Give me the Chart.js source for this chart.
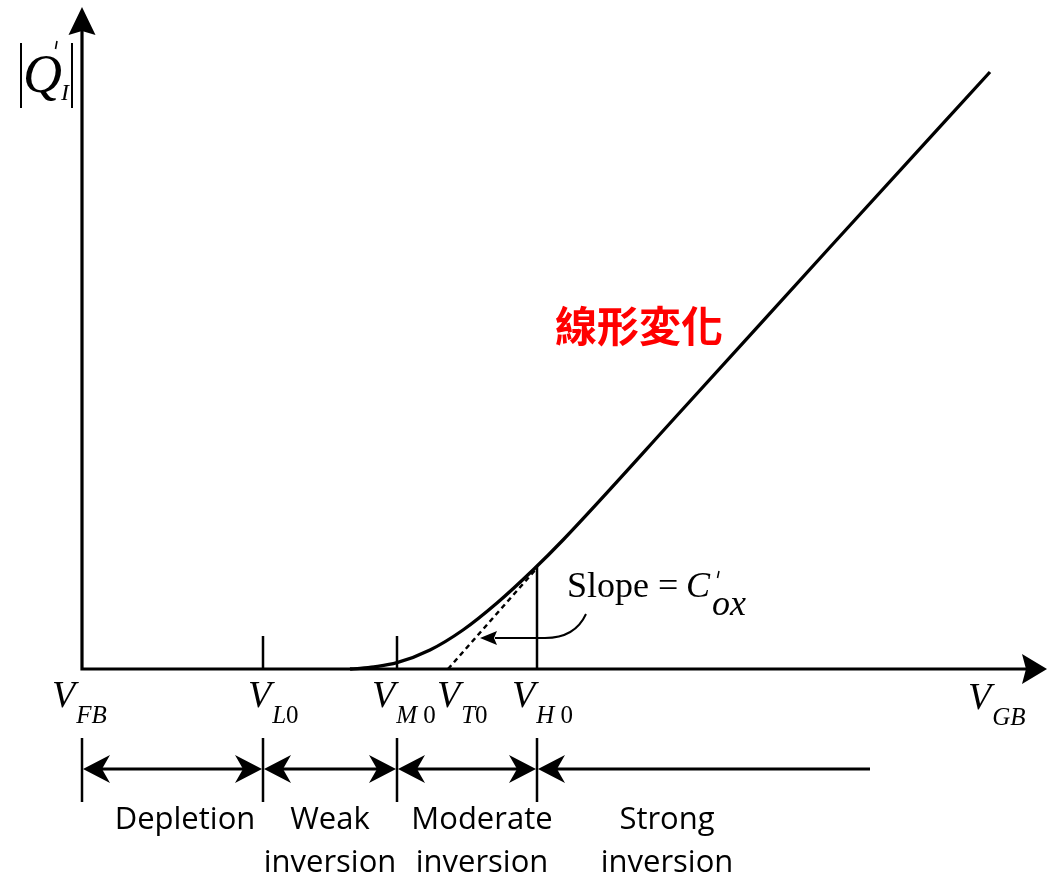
<!DOCTYPE html>
<html>
<head>
<meta charset="utf-8">
<script src="https://cdn.jsdelivr.net/npm/chart.js@4"></script>
<style>
  html, body { margin: 0; padding: 0; background: #fff; }
  #wrap { width: 1048px; height: 877px; position: relative; }
</style>
</head>
<body>
<div id="wrap"><canvas id="c"></canvas></div>
<script>
// Gate-voltage landmarks along V_GB (V_FB at the origin, arbitrary units)
const tickNames = ['FB', 'L0', 'M 0', 'T0', 'H 0'];
const tickValues = [0, 181, 315, 366, 455];

// Inversion-layer charge |Q'_I| versus V_GB
const curveX = [268, 278, 292, 315, 348, 381, 415, 451, 481, 600, 750, 908];
const curveY = [0, 0.7, 2.2, 6.3, 19, 39, 66, 99, 129, 259, 424, 597];

// Strong-inversion asymptote extended down to V_T0 (slope = C'ox)
const tangentX = [366, 455];
const tangentY = [0, 101];

// Heights of the marker at V_H0 and of the small ticks at V_L0 / V_M0
const markerH0 = 103;
const tickMarkHeight = 33;

// Operating regions below the axis
const regionBounds = [0, 181, 315, 455, 788];
const regionLabels = [['Depletion'], ['Weak', 'inversion'], ['Moderate', 'inversion'], ['Strong', 'inversion']];

const serif = '"Liberation Serif", "Times New Roman", serif';
const sans = '"Open Sans", "Noto Sans", sans-serif';
const cjk = '"Noto Sans CJK TC", "Noto Sans CJK SC", sans-serif';

function pts(xs, ys) { return xs.map((x, i) => ({ x: x, y: ys[i] })); }

function arrowHead(ctx, tx, ty, dx, dy, len, hw, notch) {
  const bx = tx - dx * len, by = ty - dy * len;
  const nx = -dy, ny = dx;
  ctx.beginPath();
  ctx.moveTo(tx, ty);
  ctx.lineTo(bx + nx * hw, by + ny * hw);
  ctx.lineTo(bx + dx * notch, by + dy * notch);
  ctx.lineTo(bx - nx * hw, by - ny * hw);
  ctx.closePath();
  ctx.fill();
}

// label anchors (data units) for the region captions
const regionLabelX = [103, 248, 400, 585];
// offset of each V label from its tick, pixels
const tickLabelShift = [-30, -15, -25, -11, -25];

// subscript: letters italic, digits upright, spaces as small gaps
function drawSub(ctx, text, x, base, size) {
  for (const ch of text) {
    if (ch === ' ') { x += size * 0.25; continue; }
    ctx.font = (/[0-9]/.test(ch) ? '' : 'italic ') + size + 'px ' + serif;
    ctx.fillText(ch, x, base);
    x += ctx.measureText(ch).width;
  }
}

const diagramPlugin = {
  id: 'diagram',
  afterDatasetsDraw(chart) {
    const ctx = chart.ctx;
    const xs = chart.scales.x, ys = chart.scales.y;
    const area = chart.chartArea;
    const X = v => xs.getPixelForValue(v);
    const Y = v => ys.getPixelForValue(v);
    const x0 = X(0), y0 = Y(0);
    ctx.save();
    ctx.fillStyle = '#000';
    ctx.strokeStyle = '#000';
    ctx.lineCap = 'butt';

    // axes with arrowheads
    ctx.lineWidth = 3.2;
    ctx.beginPath();
    ctx.moveTo(x0, y0 + 1.6);
    ctx.lineTo(x0, area.top + 24);
    ctx.moveTo(x0 - 1.6, y0);
    ctx.lineTo(area.right - 21, y0);
    ctx.stroke();
    arrowHead(ctx, x0, area.top, 0, -1, 28, 13.5, 4);
    arrowHead(ctx, area.right - 1, y0, 1, 0, 25, 15, 4);

    // V labels under the axis
    ctx.textBaseline = 'alphabetic';
    ctx.textAlign = 'left';
    const drawV = (left, base, sub) => {
      ctx.font = 'italic 38px ' + serif;
      ctx.fillText('V', left, base);
      const w = ctx.measureText('V').width;
      drawSub(ctx, sub, left + w + 1, base + 16, 25);
    };
    tickValues.forEach((v, i) => drawV(X(v) + tickLabelShift[i], y0 + 38, tickNames[i]));
    drawV(X(886), y0 + 40, 'GB');

    // |Q'_I| axis title
    ctx.lineWidth = 2;
    ctx.beginPath();
    ctx.moveTo(x0 - 61, 43); ctx.lineTo(x0 - 61, 108);
    ctx.moveTo(x0 - 10, 43); ctx.lineTo(x0 - 10, 108);
    ctx.stroke();
    ctx.font = 'italic 54px ' + serif;
    ctx.fillText('Q', x0 - 59, 92);
    ctx.lineWidth = 1.6;
    ctx.beginPath();
    ctx.moveTo(x0 - 25, 41); ctx.lineTo(x0 - 26.5, 49);
    ctx.stroke();
    ctx.font = 'italic 24px ' + serif;
    ctx.fillText('I', x0 - 21, 100);

    // region arrows
    const barTop = y0 + 69, barBot = y0 + 133, ay = y0 + 100;
    ctx.lineWidth = 2.5;
    ctx.beginPath();
    for (let i = 0; i < 4; i++) {
      ctx.moveTo(X(regionBounds[i]), barTop);
      ctx.lineTo(X(regionBounds[i]), barBot);
    }
    ctx.stroke();
    ctx.lineWidth = 3;
    for (let i = 0; i < 4; i++) {
      const a = X(regionBounds[i]), b = X(regionBounds[i + 1]);
      ctx.beginPath();
      ctx.moveTo(a + 20, ay);
      ctx.lineTo(i < 3 ? b - 20 : b, ay);
      ctx.stroke();
      arrowHead(ctx, a + 1, ay, -1, 0, 27, 14, 8);
      if (i < 3) arrowHead(ctx, b - 1, ay, 1, 0, 27, 14, 8);
    }
    ctx.textAlign = 'center';
    ctx.font = '31px ' + sans;
    regionLabels.forEach((lines, i) => {
      lines.forEach((t, j) => ctx.fillText(t, X(regionLabelX[i]), y0 + 160 + j * 43));
    });

    // annotation: linear variation
    ctx.textAlign = 'left';
    ctx.textBaseline = 'middle';
    ctx.fillStyle = '#ff0000';
    ctx.font = 'bold 42px ' + cjk;
    ctx.fillText('線形変化', X(473), Y(343));

    // annotation: slope of the asymptote
    ctx.fillStyle = '#000';
    ctx.textBaseline = 'alphabetic';
    ctx.font = '36px ' + serif;
    const sx = X(485), sb = Y(72);
    ctx.fillText('Slope', sx, sb);
    ctx.fillText('=', sx + 91, sb);
    ctx.font = 'italic 36px ' + serif;
    ctx.fillText('C', sx + 119, sb);
    ctx.fillText('ox', sx + 145, sb + 18);
    ctx.lineWidth = 1.5;
    ctx.beginPath();
    ctx.moveTo(sx + 152, sb - 26); ctx.lineTo(sx + 150.5, sb - 19);
    ctx.stroke();

    ctx.lineWidth = 2;
    ctx.beginPath();
    ctx.moveTo(X(504), Y(55));
    ctx.quadraticCurveTo(X(493), Y(31), X(463), Y(31));
    ctx.lineTo(X(413), Y(31));
    ctx.stroke();
    arrowHead(ctx, X(398), Y(31), -1, 0, 17, 7, 3);
    ctx.restore();
  }
};

new Chart(document.getElementById('c'), {
  type: 'scatter',
  data: {
    datasets: [
      {
        data: pts(curveX, curveY),
        showLine: true,
        borderColor: '#000',
        borderWidth: 3.3,
        pointRadius: 0,
        cubicInterpolationMode: 'monotone',
        clip: false
      },
      {
        data: pts(tangentX, tangentY),
        showLine: true,
        borderColor: '#000',
        borderWidth: 2.5,
        borderDash: [5, 4],
        pointRadius: 0,
        clip: false
      },
      {
        data: [{ x: tickValues[4], y: 0 }, { x: tickValues[4], y: markerH0 }],
        showLine: true,
        borderColor: '#000',
        borderWidth: 2.5,
        pointRadius: 0,
        clip: false
      },
      {
        data: [{ x: tickValues[1], y: 0 }, { x: tickValues[1], y: tickMarkHeight }],
        showLine: true,
        borderColor: '#000',
        borderWidth: 2.5,
        pointRadius: 0,
        clip: false
      },
      {
        data: [{ x: tickValues[2], y: 0 }, { x: tickValues[2], y: tickMarkHeight }],
        showLine: true,
        borderColor: '#000',
        borderWidth: 2.5,
        pointRadius: 0,
        clip: false
      }
    ]
  },
  options: {
    responsive: true,
    maintainAspectRatio: false,
    animation: false,
    layout: { padding: { left: 82, right: 0, top: 7, bottom: 208 } },
    plugins: { legend: { display: false }, tooltip: { enabled: false } },
    scales: {
      x: { type: 'linear', min: 0, max: 966, display: false },
      y: { type: 'linear', min: 0, max: 662, display: false }
    }
  },
  plugins: [diagramPlugin]
});
</script>
</body>
</html>
